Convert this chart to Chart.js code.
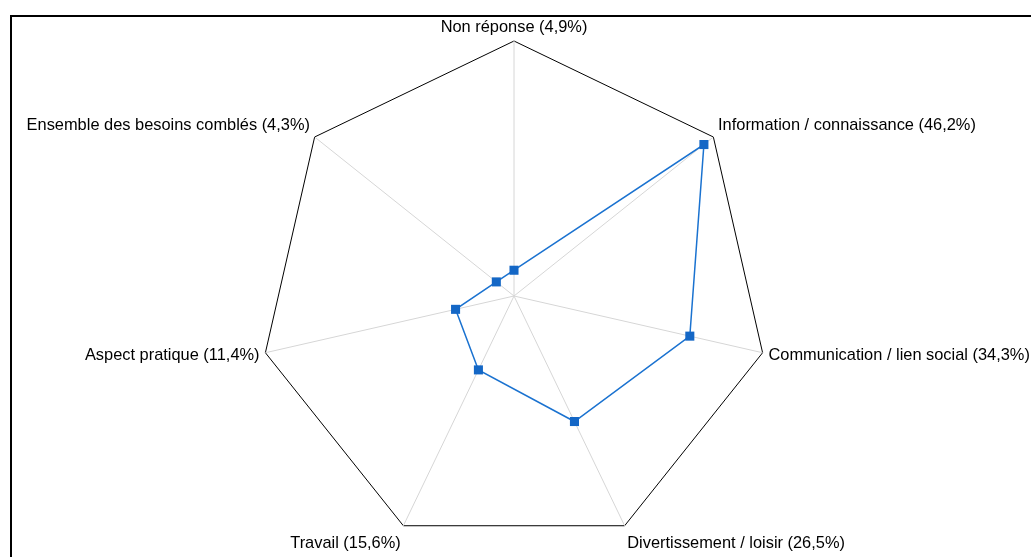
<!DOCTYPE html>
<html>
<head>
<meta charset="utf-8">
<script src="https://cdn.jsdelivr.net/npm/chart.js@4"></script>
<style>
  html, body { margin: 0; padding: 0; background: #fff; overflow: hidden; }
  #frame {
    position: absolute; left: 10px; top: 15px;
    width: 1100px; height: 600px;
    border-left: 2px solid #000; border-top: 2px solid #000;
  }
  #wrap { position: absolute; left: 0; top: 0; width: 1031px; height: 557px; }
</style>
</head>
<body>
<div id="frame"></div>
<div id="wrap"><canvas id="radar"></canvas></div>
<script>
const categories = [
    'Non réponse (4,9%)',
    'Information / connaissance (46,2%)',
    'Communication / lien social (34,3%)',
    'Divertissement / loisir (26,5%)',
    'Travail (15,6%)',
    'Aspect pratique (11,4%)',
    'Ensemble des besoins comblés (4,3%)'
];
const shares = [4.9, 46.2, 34.3, 26.5, 15.6, 11.4, 4.3];
const scaleMax = 48.5;
const lineBlue = '#1a72d0';

// fixed layout of the radar (center + radius), the labels follow it
const radarCenter = { x: 514, y: 296 };
const radarRadius = 255;
const labelFontSize = 16.4;

const ctx = document.getElementById('radar').getContext('2d');
ctx.canvas.setAttribute('role', 'img');
ctx.canvas.setAttribute('aria-label', 'Besoins comblés - radar');

new Chart(ctx, {
    type: 'radar',
    data: {
        labels: categories,
        datasets: [{
            data: shares,
            borderColor: lineBlue,
            backgroundColor: 'transparent',
            borderWidth: 1.5,
            pointStyle: 'rect',
            pointRadius: 6.4,
            pointBackgroundColor: '#1467c6',
            pointBorderColor: '#1467c6',
            pointBorderWidth: 0,
            fill: false,
            tension: 0
        }]
    },
    options: {
        responsive: true,
        maintainAspectRatio: false,
        animation: false,
        plugins: {
            legend: { display: false },
            tooltip: { enabled: false }
        },
        scales: {
            r: {
                min: 0,
                max: scaleMax,
                beforeFit: (scale) => {
                    scale.setCenterPoint = function () {
                        this.xCenter = radarCenter.x;
                        this.yCenter = radarCenter.y;
                        this.drawingArea = radarRadius;
                    };
                },
                afterFit: (scale) => {
                    // side labels sit centred on their vertex, the others a bit lower
                    const items = scale._pointLabelItems || [];
                    items.forEach((item, i) => {
                        const deg = Math.round(scale.getIndexAngle(i) * 180 / Math.PI) % 360;
                        const side = (deg > 60 && deg < 120) || (deg > 240 && deg < 300);
                        item.y += side ? -8 : 2;
                    });
                },
                ticks: { display: false, stepSize: scaleMax },
                grid: {
                    color: (c) => c.index > 0 ? '#000' : 'transparent',
                    lineWidth: 1
                },
                angleLines: { color: '#d6d6d6', lineWidth: 1 },
                pointLabels: {
                    color: '#000',
                    padding: 6,
                    font: { family: '"Liberation Sans", Arial, sans-serif', size: labelFontSize }
                }
            }
        }
    }
});
</script>
</body>
</html>
